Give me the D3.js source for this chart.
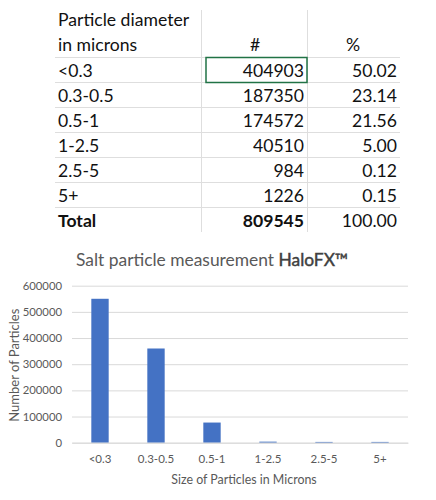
<!DOCTYPE html>
<html>
<head>
<meta charset="utf-8">
<script src="https://cdn.jsdelivr.net/npm/d3@7"></script>
<style>
html,body{margin:0;padding:0;background:#fff;}
svg{display:block;}
text{font-family:Lato,"Open Sans",sans-serif;}
</style>
</head>
<body>
<svg id="c" width="436" height="500"></svg>
<script>
// ---- table data ----
const sizeLabels = ["<0.3","0.3-0.5","0.5-1","1-2.5","2.5-5","5+"];
const counts = [404903,187350,174572,40510,984,1226];
const percents = ["50.02","23.14","21.56","5.00","0.12","0.15"];
const totalCount = 809545;
const totalPercent = "100.00";
const headerLines = ["Particle diameter","in microns"];
const colHeaders = ["#","%"];

// ---- chart data ----
const categories = ["<0.3","0.3-0.5","0.5-1","1-2.5","2.5-5","5+"];
const chartValues = [550000,360000,77000,4000,3000,3000];
const yTicks = [0,100000,200000,300000,400000,500000,600000];
const chartTitle = "Salt particle measurement ";
const chartTitleBold = "HaloFX™";
const xTitle = "Size of Particles in Microns";
const yTitle = "Number of Particles";

const svg = d3.select("#c");

// ===== TABLE =====
const rowsAll = sizeLabels.map((s,i)=>({label:s,count:String(counts[i]),pct:percents[i],bold:false}))
  .concat([{label:"Total",count:String(totalCount),pct:totalPercent,bold:true}]);
const rowY = d3.scaleBand().domain(d3.range(rowsAll.length)).range([57,232]).padding(0);
const colX = d3.scaleOrdinal().domain(["label","count","pct"]).range([58,304,397]);
const tbl = svg.append("g").attr("class","table");
const gridColor = "#dedede";
const fs = 17.6;
tbl.selectAll("line.h").data(d3.range(rowsAll.length)).join("line")
  .attr("x1",55).attr("x2",400)
  .attr("y1",i=>rowY(i)+0.5).attr("y2",i=>rowY(i)+0.5)
  .attr("stroke",gridColor).attr("stroke-width",1);
tbl.selectAll("line.v").data([201,307]).join("line")
  .attr("x1",d=>d+0.5).attr("x2",d=>d+0.5).attr("y1",10).attr("y2",232)
  .attr("stroke",gridColor).attr("stroke-width",1);
tbl.selectAll("text.hd").data(headerLines).join("text")
  .attr("x",58).attr("y",(d,i)=>26+i*25)
  .attr("font-size",fs).attr("fill","#111").text(d=>d);
tbl.append("text").attr("x",255).attr("y",51).attr("text-anchor","middle")
  .attr("font-size",fs).attr("fill","#111").text(colHeaders[0]);
tbl.append("text").attr("x",353).attr("y",51).attr("text-anchor","middle")
  .attr("font-size",fs).attr("fill","#111").text(colHeaders[1]);
const rg = tbl.selectAll("g.row").data(rowsAll).join("g")
  .attr("transform",(d,i)=>`translate(0,${rowY(i)+19.5})`);
rg.append("text").attr("x",colX("label")).attr("font-size",fs)
  .attr("font-weight",d=>d.bold?"bold":"normal").attr("fill","#111").text(d=>d.label);
rg.append("text").attr("x",colX("count")).attr("text-anchor","end").attr("font-size",fs)
  .attr("font-weight",d=>d.bold?"bold":"normal").attr("fill","#111").text(d=>d.count);
rg.append("text").attr("x",colX("pct")).attr("text-anchor","end").attr("font-size",fs)
  .attr("fill","#111").text(d=>d.pct);
tbl.append("rect").attr("x",206).attr("y",rowY(0)+0.5).attr("width",101).attr("height",rowY.bandwidth())
  .attr("fill","none").attr("stroke","#217346").attr("stroke-width",1.5);

// ===== CHART =====
const plot = {left:72,right:408,top:285.7,bottom:442.7};
const x = d3.scaleBand().domain(categories).range([plot.left,plot.right]).paddingInner(0.69).paddingOuter(0.345);
const y = d3.scaleLinear().domain([0,600000]).range([plot.bottom,plot.top]);
const ch = svg.append("g").attr("class","chart");
const axisColor = "#595959";

const t = ch.append("text").attr("x",76).attr("y",266).attr("font-size",17.4).attr("fill",axisColor);
t.append("tspan").text(chartTitle);
t.append("tspan").attr("fill","#404040").attr("stroke","#404040").attr("stroke-width",0.45).text(chartTitleBold);

const yAxis = d3.axisLeft(y).tickValues(yTicks).tickSize(-(plot.right-plot.left)).tickFormat(d3.format("d")).tickPadding(10);
const ya = ch.append("g").attr("transform",`translate(${plot.left},0)`).call(yAxis);
ya.select(".domain").remove();
ya.selectAll(".tick line").attr("stroke","#d9d9d9");
ya.selectAll(".tick text").attr("fill",axisColor).attr("font-size",11.3).attr("font-family","Lato,sans-serif");

ch.selectAll("rect.bar").data(chartValues).join("rect")
  .attr("x",(d,i)=>x(categories[i])).attr("width",x.bandwidth())
  .attr("y",d=>y(d)).attr("height",d=>y(0)-y(d)).attr("fill","#4472c4");

const xAxis = d3.axisBottom(x).tickSize(0).tickPadding(12);
const xa = ch.append("g").attr("transform",`translate(0,${plot.bottom})`).call(xAxis);
xa.select(".domain").attr("stroke","#d9d9d9");
xa.selectAll(".tick text").attr("fill",axisColor).attr("font-size",11.5).attr("font-family","Lato,sans-serif");

ch.append("text").attr("x",(plot.left+plot.right)/2+4).attr("y",484).attr("text-anchor","middle")
  .attr("font-size",12.4).attr("fill",axisColor).text(xTitle);
ch.append("text").attr("transform",`translate(19,${(plot.top+plot.bottom)/2+1}) rotate(-90)`).attr("text-anchor","middle")
  .attr("font-size",13).attr("fill",axisColor).text(yTitle);
</script>
</body>
</html>
